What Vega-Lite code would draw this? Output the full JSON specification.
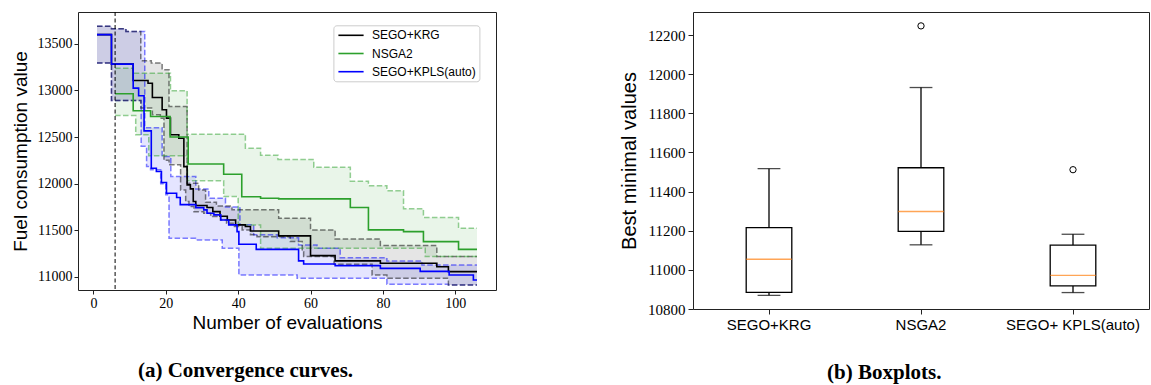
{
  "$schema": "https://vega.github.io/schema/vega-lite/v6.json",
  "background": "white",
  "padding": {"left": 10, "top": 11, "right": 0, "bottom": 0},
  "spacing": 122,
  "config": {
    "view": {"stroke": "#222222", "strokeWidth": 1},
    "axis": {"grid": false, "domain": false, "tickColor": "#222222", "labelColor": "black", "titleColor": "black", "titleFontWeight": "normal"}
  },
  "datasets": {
    "bands": [
      {"m": "SEGO+KPLS(auto)", "x": 1, "hi": 13686, "lo": 13292},
      {"m": "SEGO+KPLS(auto)", "x": 5, "hi": 13661, "lo": 12892},
      {"m": "SEGO+KPLS(auto)", "x": 9, "hi": 13632, "lo": 12892},
      {"m": "SEGO+KPLS(auto)", "x": 13.2, "hi": 13632, "lo": 12400},
      {"m": "SEGO+KPLS(auto)", "x": 14.2, "hi": 12600, "lo": 12400},
      {"m": "SEGO+KPLS(auto)", "x": 14.7, "hi": 12600, "lo": 12183},
      {"m": "SEGO+KPLS(auto)", "x": 15.8, "hi": 12600, "lo": 12148},
      {"m": "SEGO+KPLS(auto)", "x": 18.6, "hi": 12600, "lo": 12000},
      {"m": "SEGO+KPLS(auto)", "x": 19, "hi": 12290, "lo": 12000},
      {"m": "SEGO+KPLS(auto)", "x": 20, "hi": 12290, "lo": 11880},
      {"m": "SEGO+KPLS(auto)", "x": 20.9, "hi": 12290, "lo": 11414},
      {"m": "SEGO+KPLS(auto)", "x": 21.4, "hi": 12076, "lo": 11414},
      {"m": "SEGO+KPLS(auto)", "x": 28.2, "hi": 12076, "lo": 11397},
      {"m": "SEGO+KPLS(auto)", "x": 28.3, "hi": 11944, "lo": 11397},
      {"m": "SEGO+KPLS(auto)", "x": 31.9, "hi": 11843, "lo": 11397},
      {"m": "SEGO+KPLS(auto)", "x": 35.6, "hi": 11843, "lo": 11307},
      {"m": "SEGO+KPLS(auto)", "x": 36.5, "hi": 11750, "lo": 11307},
      {"m": "SEGO+KPLS(auto)", "x": 40.2, "hi": 11750, "lo": 11021},
      {"m": "SEGO+KPLS(auto)", "x": 40.5, "hi": 11560, "lo": 11021},
      {"m": "SEGO+KPLS(auto)", "x": 44.3, "hi": 11451, "lo": 11021},
      {"m": "SEGO+KPLS(auto)", "x": 50.8, "hi": 11420, "lo": 11021},
      {"m": "SEGO+KPLS(auto)", "x": 56.3, "hi": 11420, "lo": 10985},
      {"m": "SEGO+KPLS(auto)", "x": 56.7, "hi": 11343, "lo": 10985},
      {"m": "SEGO+KPLS(auto)", "x": 61.8, "hi": 11307, "lo": 10985},
      {"m": "SEGO+KPLS(auto)", "x": 68.2, "hi": 11207, "lo": 10985},
      {"m": "SEGO+KPLS(auto)", "x": 81.1, "hi": 11172, "lo": 10921},
      {"m": "SEGO+KPLS(auto)", "x": 90.8, "hi": 11129, "lo": 10921},
      {"m": "SEGO+KPLS(auto)", "x": 98.1, "hi": 11129, "lo": 10914},
      {"m": "SEGO+KPLS(auto)", "x": 106, "hi": 11129, "lo": 10914},
      {"m": "SEGO+KRG", "x": 1, "hi": 13686, "lo": 13292},
      {"m": "SEGO+KRG", "x": 5, "hi": 13661, "lo": 12892},
      {"m": "SEGO+KRG", "x": 9, "hi": 13632, "lo": 12892},
      {"m": "SEGO+KRG", "x": 13.1, "hi": 13318, "lo": 12810},
      {"m": "SEGO+KRG", "x": 16, "hi": 13292, "lo": 12810},
      {"m": "SEGO+KRG", "x": 16.3, "hi": 13292, "lo": 12738},
      {"m": "SEGO+KRG", "x": 18.5, "hi": 13292, "lo": 12702},
      {"m": "SEGO+KRG", "x": 19, "hi": 13221, "lo": 12702},
      {"m": "SEGO+KRG", "x": 19.5, "hi": 13221, "lo": 12250},
      {"m": "SEGO+KRG", "x": 20.9, "hi": 12827, "lo": 12202},
      {"m": "SEGO+KRG", "x": 24.1, "hi": 12827, "lo": 11933},
      {"m": "SEGO+KRG", "x": 25.5, "hi": 12827, "lo": 11808},
      {"m": "SEGO+KRG", "x": 25.9, "hi": 12004, "lo": 11808},
      {"m": "SEGO+KRG", "x": 26.4, "hi": 12004, "lo": 11754},
      {"m": "SEGO+KRG", "x": 27.8, "hi": 12004, "lo": 11700},
      {"m": "SEGO+KRG", "x": 29.1, "hi": 11933, "lo": 11700},
      {"m": "SEGO+KRG", "x": 30.5, "hi": 11933, "lo": 11683},
      {"m": "SEGO+KRG", "x": 31, "hi": 11800, "lo": 11683},
      {"m": "SEGO+KRG", "x": 32.4, "hi": 11800, "lo": 11647},
      {"m": "SEGO+KRG", "x": 34, "hi": 11760, "lo": 11647},
      {"m": "SEGO+KRG", "x": 35.1, "hi": 11760, "lo": 11611},
      {"m": "SEGO+KRG", "x": 36.8, "hi": 11760, "lo": 11575},
      {"m": "SEGO+KRG", "x": 38.3, "hi": 11719, "lo": 11575},
      {"m": "SEGO+KRG", "x": 38.6, "hi": 11719, "lo": 11540},
      {"m": "SEGO+KRG", "x": 41.1, "hi": 11719, "lo": 11504},
      {"m": "SEGO+KRG", "x": 43.4, "hi": 11719, "lo": 11451},
      {"m": "SEGO+KRG", "x": 45.2, "hi": 11719, "lo": 11432},
      {"m": "SEGO+KRG", "x": 51.2, "hi": 11629, "lo": 11432},
      {"m": "SEGO+KRG", "x": 54.4, "hi": 11629, "lo": 11379},
      {"m": "SEGO+KRG", "x": 57.7, "hi": 11629, "lo": 11271},
      {"m": "SEGO+KRG", "x": 58.1, "hi": 11629, "lo": 11220},
      {"m": "SEGO+KRG", "x": 60, "hi": 11504, "lo": 11220},
      {"m": "SEGO+KRG", "x": 66.5, "hi": 11504, "lo": 11135},
      {"m": "SEGO+KRG", "x": 66.8, "hi": 11408, "lo": 11135},
      {"m": "SEGO+KRG", "x": 77, "hi": 11408, "lo": 11021},
      {"m": "SEGO+KRG", "x": 79.3, "hi": 11336, "lo": 11021},
      {"m": "SEGO+KRG", "x": 81.1, "hi": 11336, "lo": 10985},
      {"m": "SEGO+KRG", "x": 94.9, "hi": 11218, "lo": 10985},
      {"m": "SEGO+KRG", "x": 98.1, "hi": 11218, "lo": 10914},
      {"m": "SEGO+KRG", "x": 106, "hi": 11218, "lo": 10914},
      {"m": "NSGA2", "x": 6, "hi": 13238, "lo": 12731},
      {"m": "NSGA2", "x": 11, "hi": 13184, "lo": 12731},
      {"m": "NSGA2", "x": 11.7, "hi": 13184, "lo": 12524},
      {"m": "NSGA2", "x": 15.3, "hi": 13184, "lo": 12300},
      {"m": "NSGA2", "x": 21.3, "hi": 12996, "lo": 12300},
      {"m": "NSGA2", "x": 25.9, "hi": 12530, "lo": 12300},
      {"m": "NSGA2", "x": 26, "hi": 12530, "lo": 12030},
      {"m": "NSGA2", "x": 36, "hi": 12530, "lo": 11862},
      {"m": "NSGA2", "x": 40, "hi": 12530, "lo": 11558},
      {"m": "NSGA2", "x": 42, "hi": 12380, "lo": 11558},
      {"m": "NSGA2", "x": 46.2, "hi": 12305, "lo": 11307},
      {"m": "NSGA2", "x": 51, "hi": 12260, "lo": 11307},
      {"m": "NSGA2", "x": 60.9, "hi": 12176, "lo": 11307},
      {"m": "NSGA2", "x": 71, "hi": 12027, "lo": 11307},
      {"m": "NSGA2", "x": 76, "hi": 11978, "lo": 11307},
      {"m": "NSGA2", "x": 81.1, "hi": 11923, "lo": 11307},
      {"m": "NSGA2", "x": 85.7, "hi": 11730, "lo": 11307},
      {"m": "NSGA2", "x": 91.2, "hi": 11638, "lo": 11307},
      {"m": "NSGA2", "x": 91.7, "hi": 11638, "lo": 11218},
      {"m": "NSGA2", "x": 100.9, "hi": 11522, "lo": 11218},
      {"m": "NSGA2", "x": 106, "hi": 11522, "lo": 11218}
    ],
    "means": [
      {"m": "SEGO+KRG", "x": 1, "y": 13597},
      {"m": "SEGO+KRG", "x": 5, "y": 13281},
      {"m": "SEGO+KRG", "x": 11, "y": 13106},
      {"m": "SEGO+KRG", "x": 15.1, "y": 13077},
      {"m": "SEGO+KRG", "x": 16.3, "y": 12924},
      {"m": "SEGO+KRG", "x": 19, "y": 12792},
      {"m": "SEGO+KRG", "x": 20.2, "y": 12702},
      {"m": "SEGO+KRG", "x": 21.3, "y": 12524},
      {"m": "SEGO+KRG", "x": 23.6, "y": 12487},
      {"m": "SEGO+KRG", "x": 25, "y": 12183},
      {"m": "SEGO+KRG", "x": 25.9, "y": 11987},
      {"m": "SEGO+KRG", "x": 26.8, "y": 11944},
      {"m": "SEGO+KRG", "x": 27.6, "y": 11808},
      {"m": "SEGO+KRG", "x": 28.3, "y": 11765},
      {"m": "SEGO+KRG", "x": 31.4, "y": 11744},
      {"m": "SEGO+KRG", "x": 33, "y": 11700},
      {"m": "SEGO+KRG", "x": 35, "y": 11650},
      {"m": "SEGO+KRG", "x": 37, "y": 11610},
      {"m": "SEGO+KRG", "x": 39.3, "y": 11558},
      {"m": "SEGO+KRG", "x": 42, "y": 11540},
      {"m": "SEGO+KRG", "x": 43.4, "y": 11493},
      {"m": "SEGO+KRG", "x": 51.2, "y": 11440},
      {"m": "SEGO+KRG", "x": 60, "y": 11229},
      {"m": "SEGO+KRG", "x": 66.8, "y": 11172},
      {"m": "SEGO+KRG", "x": 79.3, "y": 11146},
      {"m": "SEGO+KRG", "x": 94.9, "y": 11110},
      {"m": "SEGO+KRG", "x": 98.1, "y": 11057},
      {"m": "SEGO+KRG", "x": 106, "y": 11057},
      {"m": "NSGA2", "x": 6, "y": 12963},
      {"m": "NSGA2", "x": 11, "y": 12781},
      {"m": "NSGA2", "x": 15.8, "y": 12720},
      {"m": "NSGA2", "x": 21.2, "y": 12500},
      {"m": "NSGA2", "x": 26.2, "y": 12210},
      {"m": "NSGA2", "x": 36, "y": 12100},
      {"m": "NSGA2", "x": 41, "y": 11860},
      {"m": "NSGA2", "x": 46.2, "y": 11843},
      {"m": "NSGA2", "x": 51.2, "y": 11837},
      {"m": "NSGA2", "x": 71, "y": 11744},
      {"m": "NSGA2", "x": 76, "y": 11504},
      {"m": "NSGA2", "x": 85.7, "y": 11486},
      {"m": "NSGA2", "x": 91.2, "y": 11379},
      {"m": "NSGA2", "x": 100.9, "y": 11296},
      {"m": "NSGA2", "x": 106, "y": 11296},
      {"m": "SEGO+KPLS(auto)", "x": 1, "y": 13597},
      {"m": "SEGO+KPLS(auto)", "x": 5, "y": 13281},
      {"m": "SEGO+KPLS(auto)", "x": 11, "y": 13024},
      {"m": "SEGO+KPLS(auto)", "x": 12.5, "y": 12942},
      {"m": "SEGO+KPLS(auto)", "x": 14, "y": 12566},
      {"m": "SEGO+KPLS(auto)", "x": 16, "y": 12165},
      {"m": "SEGO+KPLS(auto)", "x": 17.4, "y": 12130},
      {"m": "SEGO+KPLS(auto)", "x": 18.8, "y": 12012},
      {"m": "SEGO+KPLS(auto)", "x": 20.2, "y": 11897},
      {"m": "SEGO+KPLS(auto)", "x": 23, "y": 11851},
      {"m": "SEGO+KPLS(auto)", "x": 24, "y": 11775},
      {"m": "SEGO+KPLS(auto)", "x": 28.3, "y": 11743},
      {"m": "SEGO+KPLS(auto)", "x": 30.5, "y": 11719},
      {"m": "SEGO+KPLS(auto)", "x": 31.4, "y": 11683},
      {"m": "SEGO+KPLS(auto)", "x": 33.3, "y": 11665},
      {"m": "SEGO+KPLS(auto)", "x": 35.2, "y": 11611},
      {"m": "SEGO+KPLS(auto)", "x": 37.4, "y": 11558},
      {"m": "SEGO+KPLS(auto)", "x": 39.7, "y": 11486},
      {"m": "SEGO+KPLS(auto)", "x": 40.2, "y": 11350},
      {"m": "SEGO+KPLS(auto)", "x": 45, "y": 11295},
      {"m": "SEGO+KPLS(auto)", "x": 56.7, "y": 11172},
      {"m": "SEGO+KPLS(auto)", "x": 58.1, "y": 11139},
      {"m": "SEGO+KPLS(auto)", "x": 66.8, "y": 11121},
      {"m": "SEGO+KPLS(auto)", "x": 79.3, "y": 11092},
      {"m": "SEGO+KPLS(auto)", "x": 90.3, "y": 11060},
      {"m": "SEGO+KPLS(auto)", "x": 98.3, "y": 11021},
      {"m": "SEGO+KPLS(auto)", "x": 105, "y": 10968},
      {"m": "SEGO+KPLS(auto)", "x": 106, "y": 10968}
    ],
    "doe": [{"x": 6}],
    "boxes": [
      {"name": "SEGO+KRG", "lower": 10870, "q1": 10885, "median": 11054, "q3": 11216, "upper": 11517},
      {"name": "NSGA2", "lower": 11128, "q1": 11197, "median": 11298, "q3": 11522, "upper": 11932},
      {"name": "SEGO+ KPLS(auto)", "lower": 10884, "q1": 10918, "median": 10972, "q3": 11126, "upper": 11182}
    ],
    "outliers": [
      {"name": "NSGA2", "value": 12247},
      {"name": "SEGO+ KPLS(auto)", "value": 11512}
    ]
  },
  "hconcat": [
    {
      "width": 418,
      "height": 278,
      "title": {"text": "(a) Convergence curves.", "orient": "bottom", "anchor": "middle", "frame": "bounds", "offset": 28, "dx": -8, "font": "Liberation Serif", "fontSize": 21, "fontWeight": "bold", "color": "black"},
      "layer": [
        {
          "data": {"name": "bands"},
          "mark": {"type": "area", "interpolate": "step-after", "fillOpacity": 0.1},
          "encoding": {
            "x": {"field": "x", "type": "quantitative", "title": "Number of evaluations",
              "scale": {"domain": [-4.25, 111.25], "nice": false, "zero": false},
              "axis": {"values": [0, 20, 40, 60, 80, 100], "format": "d", "labelFont": "Liberation Serif", "labelFontSize": 14, "tickSize": 4, "labelPadding": 2, "titleFont": "Liberation Sans", "titleFontSize": 19, "titlePadding": 3}},
            "y": {"field": "hi", "type": "quantitative", "title": "Fuel consumption value",
              "scale": {"domain": [10860, 13840], "nice": false, "zero": false},
              "axis": {"values": [11000, 11500, 12000, 12500, 13000, 13500], "format": "d", "labelFont": "Liberation Serif", "labelFontSize": 14, "tickSize": 4, "labelPadding": 2, "titleFont": "Liberation Sans", "titleFontSize": 19, "titlePadding": 7}},
            "y2": {"field": "lo"},
            "fill": {"field": "m", "type": "nominal", "scale": {"domain": ["NSGA2", "SEGO+KRG", "SEGO+KPLS(auto)"], "range": ["#2ca02c", "#000000", "#0000ff"]}, "legend": null}
          }
        },
        {
          "data": {"name": "bands"},
          "mark": {"type": "line", "interpolate": "step-after", "strokeDash": [5.5, 2.4], "strokeWidth": 1.5, "opacity": 0.5},
          "encoding": {
            "x": {"field": "x", "type": "quantitative", "title": "Number of evaluations"},
            "y": {"field": "hi", "type": "quantitative", "title": "Fuel consumption value"},
            "stroke": {"field": "m", "type": "nominal", "scale": {"domain": ["SEGO+KPLS(auto)", "SEGO+KRG", "NSGA2"], "range": ["#0000ff", "#000000", "#2ca02c"]}, "legend": null}
          }
        },
        {
          "data": {"name": "bands"},
          "mark": {"type": "line", "interpolate": "step-after", "strokeDash": [5.5, 2.4], "strokeWidth": 1.5, "opacity": 0.5},
          "encoding": {
            "x": {"field": "x", "type": "quantitative", "title": "Number of evaluations"},
            "y": {"field": "lo", "type": "quantitative", "title": "Fuel consumption value"},
            "stroke": {"field": "m", "type": "nominal", "scale": {"domain": ["SEGO+KPLS(auto)", "SEGO+KRG", "NSGA2"], "range": ["#0000ff", "#000000", "#2ca02c"]}, "legend": null}
          }
        },
        {
          "data": {"name": "means"},
          "mark": {"type": "line", "interpolate": "step-after", "strokeWidth": 1.6},
          "encoding": {
            "x": {"field": "x", "type": "quantitative", "title": "Number of evaluations"},
            "y": {"field": "y", "type": "quantitative", "title": "Fuel consumption value"},
            "color": {"field": "m", "type": "nominal", "scale": {"domain": ["SEGO+KRG", "NSGA2", "SEGO+KPLS(auto)"], "range": ["#000000", "#2ca02c", "#0000ff"]},
              "legend": {"orient": "none", "legendX": 255.4, "legendY": 13.3, "title": null, "symbolType": "M-2.1,0H2.1", "symbolSize": 144, "symbolStrokeWidth": 1.6, "symbolOffset": 7.6, "labelFont": "Liberation Sans", "labelFontSize": 12, "labelColor": "black", "strokeColor": "#cccccc", "fillColor": "white", "padding": 3, "cornerRadius": 3, "rowPadding": 5.2, "labelOffset": 14}}
          }
        },
        {
          "data": {"name": "doe"},
          "mark": {"type": "rule", "color": "black", "strokeWidth": 1, "strokeDash": [4, 2.5]},
          "encoding": {"x": {"field": "x", "type": "quantitative"}}
        }
      ]
    },
    {
      "width": 456,
      "height": 297,
      "title": {"text": "(b) Boxplots.", "orient": "bottom", "anchor": "middle", "frame": "bounds", "offset": 30, "font": "Liberation Serif", "fontSize": 21, "fontWeight": "bold", "color": "black"},
      "layer": [
        {
          "data": {"name": "boxes"},
          "mark": {"type": "rule", "color": "black", "strokeWidth": 1.3},
          "encoding": {
            "x": {"field": "name", "type": "nominal", "sort": null, "title": null,
              "scale": {"type": "band", "domain": ["SEGO+KRG", "NSGA2", "SEGO+ KPLS(auto)"], "paddingInner": 0.7, "paddingOuter": 0.35},
              "axis": {"labelAngle": 0, "labelFont": "Liberation Sans", "labelFontSize": 15, "tickSize": 5, "labelPadding": 3}},
            "y": {"field": "lower", "type": "quantitative", "title": "Best minimal values",
              "scale": {"domain": [10800, 12318], "nice": false, "zero": false},
              "axis": {"values": [10800, 11000, 11200, 11400, 11600, 11800, 12000, 12200], "format": "d", "labelFont": "Liberation Serif", "labelFontSize": 15, "tickSize": 5, "labelPadding": 3, "titleFont": "Liberation Sans", "titleFontSize": 20, "titlePadding": 8}},
            "y2": {"field": "q1"}
          }
        },
        {
          "data": {"name": "boxes"},
          "mark": {"type": "rule", "color": "black", "strokeWidth": 1.3},
          "encoding": {
            "x": {"field": "name", "type": "nominal", "sort": null, "title": null},
            "y": {"field": "q3", "type": "quantitative", "title": "Best minimal values"},
            "y2": {"field": "upper"}
          }
        },
        {
          "data": {"name": "boxes"},
          "mark": {"type": "bar", "fill": "white", "stroke": "black", "strokeWidth": 1.3},
          "encoding": {
            "x": {"field": "name", "type": "nominal", "sort": null, "title": null},
            "y": {"field": "q1", "type": "quantitative", "title": "Best minimal values"},
            "y2": {"field": "q3"}
          }
        },
        {
          "data": {"name": "boxes"},
          "mark": {"type": "tick", "color": "#ff7f0e", "size": 45.6, "thickness": 1.4},
          "encoding": {
            "x": {"field": "name", "type": "nominal", "sort": null, "title": null},
            "y": {"field": "median", "type": "quantitative", "title": "Best minimal values"}
          }
        },
        {
          "data": {"name": "boxes"},
          "mark": {"type": "tick", "color": "black", "size": 22.8, "thickness": 1.3},
          "encoding": {
            "x": {"field": "name", "type": "nominal", "sort": null, "title": null},
            "y": {"field": "lower", "type": "quantitative", "title": "Best minimal values"}
          }
        },
        {
          "data": {"name": "boxes"},
          "mark": {"type": "tick", "color": "black", "size": 22.8, "thickness": 1.3},
          "encoding": {
            "x": {"field": "name", "type": "nominal", "sort": null, "title": null},
            "y": {"field": "upper", "type": "quantitative", "title": "Best minimal values"}
          }
        },
        {
          "data": {"name": "outliers"},
          "mark": {"type": "point", "shape": "circle", "filled": false, "stroke": "black", "strokeWidth": 1, "size": 40, "opacity": 1},
          "encoding": {
            "x": {"field": "name", "type": "nominal", "sort": null, "title": null},
            "y": {"field": "value", "type": "quantitative", "title": "Best minimal values"}
          }
        }
      ]
    }
  ]
}
